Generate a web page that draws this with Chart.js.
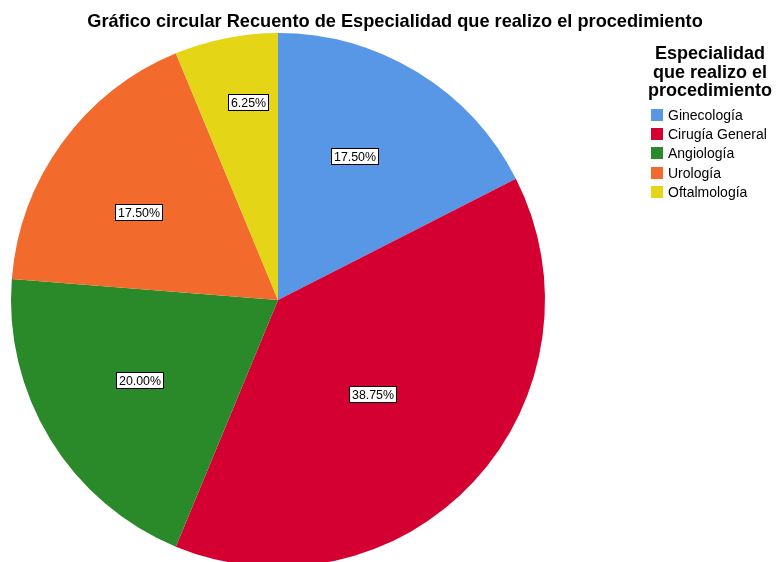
<!DOCTYPE html>
<html>
<head>
<meta charset="utf-8">
<script src="https://cdn.jsdelivr.net/npm/chart.js@4.4.1/dist/chart.umd.min.js"></script>
<style>
  html, body { margin: 0; padding: 0; width: 777px; height: 562px; overflow: hidden; background: #fff; }
  #wrap { position: absolute; left: 0; top: 0; width: 777px; height: 640px; }
  #title { position: absolute; left: 0; top: 12px; width: 790px; text-align: center;
           font: bold 18.2px "Liberation Sans", Arial, sans-serif; line-height: 18px; color: #000; white-space: nowrap; }
  #legend { position: absolute; left: 639px; top: 44px; width: 142px; font-family: "Liberation Sans", Arial, sans-serif; }
  #legend .lt { text-align: center; font-weight: bold; font-size: 18px; line-height: 18.5px; color: #000; margin-bottom: 8px; }
  #legend .it { position: relative; height: 19.4px; font-size: 14px; line-height: 14px; color: #000; padding-left: 29px; }
  #legend .sw { position: absolute; left: 12px; top: 1px; width: 12px; height: 12px; }
</style>
</head>
<body>
<div id="wrap"><canvas id="c" width="777" height="640"></canvas></div>
<div id="title"></div>
<div id="legend"></div>
<script>
const chartTitle = "Gráfico circular Recuento de Especialidad que realizo el procedimiento";
const legendTitle = ["Especialidad", "que realizo el", "procedimiento"];
const categories = ["Ginecología", "Cirugía General", "Angiología", "Urología", "Oftalmología"];
const counts = [14, 31, 16, 14, 5];
const percentLabels = ["17.50%", "38.75%", "20.00%", "17.50%", "6.25%"];
const colors = ["#5896E6", "#D50032", "#2A8A2A", "#F26A2C", "#E4D516"];

document.getElementById('title').textContent = chartTitle;
const lg = document.getElementById('legend');
let html = '<div class="lt">' + legendTitle.join('<br>') + '</div>';
categories.forEach((c, i) => {
  html += '<div class="it"><span class="sw" style="background:' + colors[i] + '"></span>' + c + '</div>';
});
lg.innerHTML = html;

// label placement style: radial fraction and angular nudge (degrees) per slice
const labelRadial = [0.61, 0.50, 0.60, 0.62, 0.75];
const labelNudge = [-3.5, 2.2, 1.5, -4, 2.5];

const boxLabels = {
  id: 'boxLabels',
  afterDatasetsDraw(chart) {
    const ctx = chart.ctx;
    const meta = chart.getDatasetMeta(0);
    ctx.save();
    ctx.font = '12.4px "Liberation Sans", Arial, sans-serif';
    ctx.textAlign = 'center';
    ctx.textBaseline = 'middle';
    meta.data.forEach((arc, i) => {
      const p = arc.getProps(['x', 'y', 'startAngle', 'endAngle', 'outerRadius']);
      const a = (p.startAngle + p.endAngle) / 2 + labelNudge[i] * Math.PI / 180;
      const r = p.outerRadius * labelRadial[i];
      const x = Math.round(p.x + Math.cos(a) * r);
      const y = Math.round(p.y + Math.sin(a) * r);
      const t = percentLabels[i];
      const w = Math.round(ctx.measureText(t).width) + 5;
      const h = 16;
      const bx = Math.round(x - w / 2), by = Math.round(y - h / 2);
      ctx.fillStyle = '#fff';
      ctx.fillRect(bx, by, w, h);
      ctx.strokeStyle = '#000';
      ctx.lineWidth = 1;
      ctx.strokeRect(bx + 0.5, by + 0.5, w, h);
      ctx.fillStyle = '#000';
      ctx.fillText(t, bx + w / 2 + 0.5, by + h / 2 + 1.5);
    });
    ctx.restore();
  }
};

new Chart(document.getElementById('c'), {
  type: 'pie',
  data: {
    labels: categories,
    datasets: [{
      data: counts,
      backgroundColor: colors,
      borderWidth: 0
    }]
  },
  options: {
    responsive: false,
    animation: false,
    layout: { padding: { left: 11, top: 33, right: 232, bottom: 73 } },
    plugins: {
      legend: { display: false },
      title: { display: false },
      tooltip: { enabled: false }
    }
  },
  plugins: [boxLabels]
});
</script>
</body>
</html>
